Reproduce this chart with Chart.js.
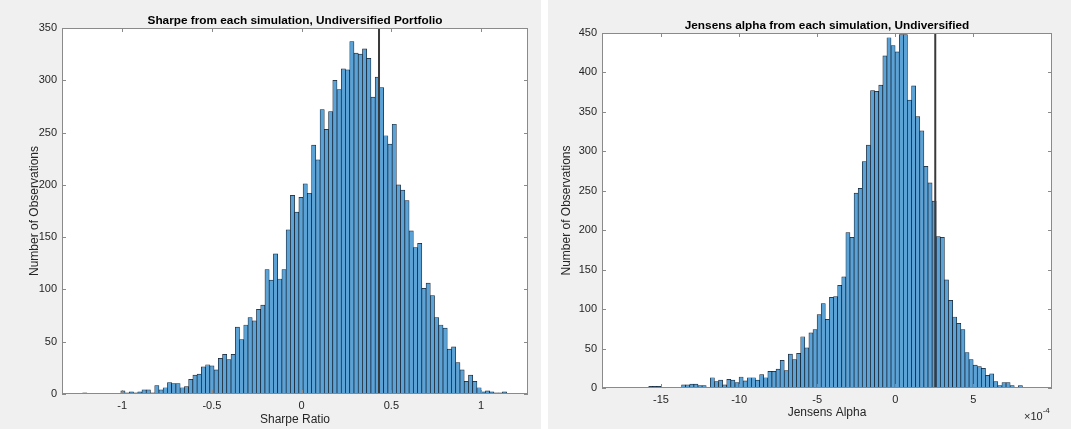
<!DOCTYPE html>
<html>
<head>
<meta charset="utf-8">
<script src="https://cdn.jsdelivr.net/npm/chart.js@4.4.1/dist/chart.umd.min.js"></script>
<style>
    html, body { margin: 0; padding: 0; background: #ffffff; }
    body { width: 1071px; height: 429px; position: relative; overflow: hidden; }
    .panel { position: absolute; top: 0; height: 429px; }
    #leftPanel { left: 0; width: 541px; }
    #rightPanel { left: 548px; width: 523px; }
</style>
</head>
<body>
<div class="panel" id="leftPanel"><canvas id="sharpeChart" width="541" height="429"></canvas></div>
<div class="panel" id="rightPanel"><canvas id="alphaChart" width="523" height="429"></canvas></div>

<script>
// Sharpe ratio histogram (100 bins)
const sharpeBinStart = -1.2201;
const sharpeBinWidth = 0.02362;
const sharpeCounts = [
    1, 0, 0, 0, 0, 0, 0, 0, 0, 3,
    1, 2, 1, 2, 4, 4, 1, 8, 4, 6,
    11, 10, 10, 6, 7, 14, 18, 19, 26, 28,
    27, 23, 34, 38, 33, 38, 64, 52, 66, 73,
    70, 81, 85, 119, 109, 134, 110, 119, 157, 190,
    174, 188, 201, 192, 238, 224, 272, 253, 270, 300,
    291, 311, 310, 337, 326, 325, 330, 321, 284, 303,
    293, 247, 239, 258, 200, 195, 185, 156, 140, 144,
    101, 106, 94, 73, 66, 63, 43, 45, 30, 23,
    12, 18, 12, 6, 2, 3, 2, 1, 1, 2
];
const sharpeMarker = 0.431;
const sharpeTicks = [-1, -0.5, 0, 0.5, 1];
const sharpeTickLabels = ['-1', '-0.5', '0', '0.5', '1'];

// Jensens alpha histogram, in units of 1e-4 (100 bins)
const alphaBinStart = -17.63;
const alphaBinWidth = 0.263;
const alphaCounts = [
    1, 1, 0, 0, 0, 1, 0, 2, 2, 2,
    0, 0, 1, 0, 1, 4, 4, 5, 5, 3,
    3, 1, 13, 8, 10, 4, 11, 10, 7, 14,
    9, 13, 13, 10, 17, 13, 21, 21, 24, 35,
    22, 43, 36, 44, 65, 51, 70, 74, 93, 107,
    87, 115, 116, 130, 141, 197, 191, 247, 253, 287,
    308, 377, 376, 384, 421, 444, 434, 426, 448, 448,
    365, 383, 344, 326, 281, 260, 237, 192, 191, 137,
    111, 90, 82, 74, 45, 36, 29, 27, 25, 16,
    18, 8, 3, 7, 7, 3, 1, 3, 1, 1
];
const alphaMarker = 2.56;
const alphaTicks = [-15, -10, -5, 0, 5];
const alphaTickLabels = ['-15', '-10', '-5', '0', '5'];

const yStep = 50;
const fontFamily = '"Liberation Sans", Arial, Helvetica, sans-serif';
const textColor = '#262626';
const boxColor = '#8a8a8a';

// MATLAB-ish frame: gray figure, white axes, box with inward ticks on every side
const matlabAxes = {
    id: 'matlabAxes',
    beforeDraw(chart) {
        const { ctx, chartArea: a } = chart;
        ctx.save();
        ctx.fillStyle = '#f0f0f0';
        ctx.fillRect(0, 0, chart.width, chart.height);
        ctx.fillStyle = '#ffffff';
        ctx.fillRect(a.left, a.top, a.right - a.left, a.bottom - a.top);
        ctx.restore();
    },
    afterDraw(chart, args, opts) {
        const { ctx, chartArea: a, scales } = chart;
        const tickLen = 4;
        ctx.save();
        ctx.strokeStyle = boxColor;
        ctx.lineWidth = 1;
        ctx.strokeRect(a.left + 0.5, a.top + 0.5, a.right - a.left - 1, a.bottom - a.top - 1);
        ctx.beginPath();
        scales.x.ticks.forEach(t => {
            const px = Math.round(scales.x.getPixelForValue(t.value)) + 0.5;
            ctx.moveTo(px, a.bottom);
            ctx.lineTo(px, a.bottom - tickLen);
            ctx.moveTo(px, a.top);
            ctx.lineTo(px, a.top + tickLen);
        });
        scales.y.ticks.forEach(t => {
            const py = Math.round(scales.y.getPixelForValue(t.value)) + 0.5;
            ctx.moveTo(a.left, py);
            ctx.lineTo(a.left + tickLen, py);
            ctx.moveTo(a.right, py);
            ctx.lineTo(a.right - tickLen, py);
        });
        ctx.stroke();

        if (opts.exponent) {
            ctx.fillStyle = textColor;
            ctx.textBaseline = 'alphabetic';
            ctx.textAlign = 'left';
            ctx.font = '11px ' + fontFamily;
            const x0 = a.right - 28;
            ctx.fillText('\u00d710', x0, chart.height - 9);
            const w = ctx.measureText('\u00d710').width;
            ctx.font = '8px ' + fontFamily;
            ctx.fillText(opts.exponent, x0 + w, chart.height - 16);
        }
        ctx.restore();
    }
};

function makeHistogram(canvasId, cfg) {
    const bins = cfg.counts.map((c, i) => ({
        x: cfg.binStart + (i + 0.5) * cfg.binWidth,
        y: c
    }));

    return new Chart(document.getElementById(canvasId), {
        type: 'bar',
        data: {
            datasets: [
                {
                    type: 'line',
                    data: [{ x: cfg.marker, y: 0 }, { x: cfg.marker, y: cfg.yMax }],
                    borderColor: '#3a3a3a',
                    borderWidth: 2,
                    pointRadius: 0,
                    order: 0
                },
                {
                    data: bins,
                    backgroundColor: '#5ba2d6',
                    borderColor: 'rgba(8, 20, 34, 0.95)',
                    borderWidth: ctx => (ctx.raw && ctx.raw.y > 0 ? 0.7 : 0),
                    borderSkipped: false,
                    barPercentage: 1,
                    categoryPercentage: 1,
                    order: 1
                }
            ]
        },
        options: {
            responsive: false,
            animation: false,
            events: [],
            layout: { padding: { left: 0, right: cfg.padRight, top: 0, bottom: 0 } },
            plugins: {
                legend: { display: false },
                tooltip: { enabled: false },
                title: {
                    display: true,
                    text: cfg.title,
                    fullSize: false,
                    color: '#000000',
                    font: { family: fontFamily, size: 11.8, weight: 'bold', lineHeight: 1.2 },
                    padding: { top: cfg.titleTop, bottom: cfg.titleBottom }
                },
                matlabAxes: { exponent: cfg.exponent }
            },
            scales: {
                x: {
                    type: 'linear',
                    min: cfg.xMin,
                    max: cfg.xMax,
                    offset: false,
                    grid: { display: false, drawTicks: false, offset: false },
                    border: { display: false },
                    afterBuildTicks: scale => {
                        scale.ticks = cfg.xTicks.map(v => ({ value: v }));
                    },
                    ticks: {
                        autoSkip: false,
                        maxRotation: 0,
                        padding: cfg.xTickPad,
                        color: textColor,
                        font: { family: fontFamily, size: 11 },
                        callback: value => cfg.xTickLabels[cfg.xTicks.indexOf(value)]
                    },
                    title: {
                        display: true,
                        text: cfg.xTitle,
                        color: textColor,
                        font: { family: fontFamily, size: 12, lineHeight: 1.2 },
                        padding: { top: 0, bottom: cfg.xTitlePad }
                    },
                    afterFit: scale => { scale.height = cfg.xAxisHeight; }
                },
                y: {
                    min: 0,
                    max: cfg.yMax,
                    grid: { display: false, drawTicks: false },
                    border: { display: false },
                    ticks: {
                        stepSize: yStep,
                        padding: 5,
                        color: textColor,
                        font: { family: fontFamily, size: 11 }
                    },
                    title: {
                        display: true,
                        text: 'Number of Observations',
                        color: textColor,
                        font: { family: fontFamily, size: 12, lineHeight: 1.2 },
                        padding: { top: cfg.yTitlePad, bottom: 0 }
                    },
                    afterFit: scale => { scale.width = cfg.yAxisWidth; }
                }
            }
        },
        plugins: [matlabAxes]
    });
}

makeHistogram('sharpeChart', {
    counts: sharpeCounts,
    binStart: sharpeBinStart,
    binWidth: sharpeBinWidth,
    marker: sharpeMarker,
    xTicks: sharpeTicks,
    xTickLabels: sharpeTickLabels,
    xMin: -1.335,
    xMax: 1.261,
    yMax: 350,
    title: 'Sharpe from each simulation, Undiversified Portfolio',
    xTitle: 'Sharpe Ratio',
    yAxisWidth: 62,
    xAxisHeight: 35,
    padRight: 13,
    titleTop: 13.5,
    titleBottom: 0.34,
    xTickPad: 5.5,
    xTitlePad: 1.8,
    yTitlePad: 27
});

makeHistogram('alphaChart', {
    counts: alphaCounts,
    binStart: alphaBinStart,
    binWidth: alphaBinWidth,
    marker: alphaMarker,
    xTicks: alphaTicks,
    xTickLabels: alphaTickLabels,
    xMin: -18.78,
    xMax: 10.035,
    yMax: 450,
    title: 'Jensens alpha from each simulation, Undiversified',
    xTitle: 'Jensens Alpha',
    exponent: '-4',
    yAxisWidth: 54,
    xAxisHeight: 41,
    padRight: 19,
    titleTop: 18.5,
    titleBottom: 0.34,
    xTickPad: 5,
    xTitlePad: 8.8,
    yTitlePad: 11.8
});
</script>
</body>
</html>
